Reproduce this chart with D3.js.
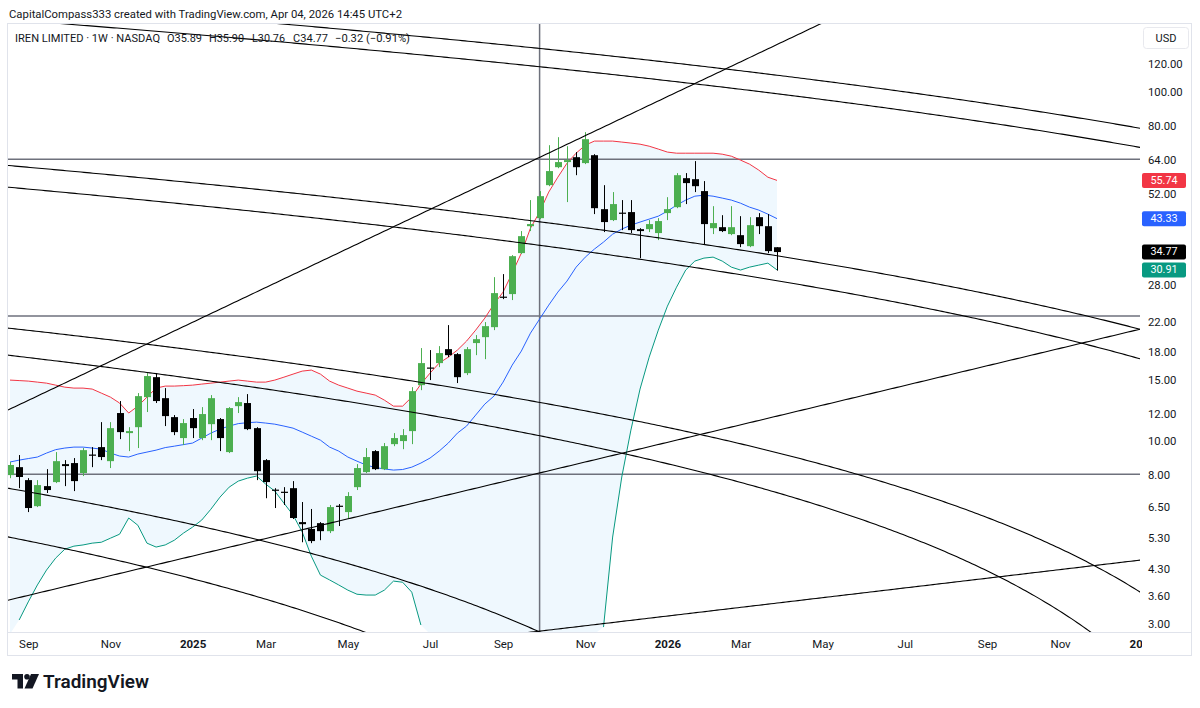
<!DOCTYPE html>
<html><head><meta charset="utf-8">
<script src="https://cdn.jsdelivr.net/npm/d3@7"></script>
<style>
html,body{margin:0;padding:0;background:#fff;}
svg{display:block;font-family:Roboto,"Liberation Sans",Arial,sans-serif;}
</style></head><body>
<svg id="c" width="1200" height="708"></svg>
<script>
// ---------------- DATA ----------------
const dates = ["2024-08-19","2024-08-26","2024-09-02","2024-09-09","2024-09-16","2024-09-23","2024-09-30","2024-10-07","2024-10-14","2024-10-21","2024-10-28","2024-11-04","2024-11-11","2024-11-18","2024-11-25","2024-12-02","2024-12-09","2024-12-16","2024-12-23","2024-12-30","2025-01-06","2025-01-13","2025-01-20","2025-01-27","2025-02-03","2025-02-10","2025-02-17","2025-02-24","2025-03-03","2025-03-10","2025-03-17","2025-03-24","2025-03-31","2025-04-07","2025-04-14","2025-04-21","2025-04-28","2025-05-05","2025-05-12","2025-05-19","2025-05-26","2025-06-02","2025-06-09","2025-06-16","2025-06-23","2025-06-30","2025-07-07","2025-07-14","2025-07-21","2025-07-28","2025-08-04","2025-08-11","2025-08-18","2025-08-25","2025-09-01","2025-09-08","2025-09-15","2025-09-22","2025-09-29","2025-10-06","2025-10-13","2025-10-20","2025-10-27","2025-11-03","2025-11-10","2025-11-17","2025-11-24","2025-12-01","2025-12-08","2025-12-15","2025-12-22","2025-12-29","2026-01-05","2026-01-12","2026-01-19","2026-01-26","2026-02-02","2026-02-09","2026-02-16","2026-02-23","2026-03-02","2026-03-09","2026-03-16","2026-03-23","2026-03-30"];

const open = [8.00,8.43,7.74,6.52,7.44,7.64,8.60,8.66,8.11,9.16,
  9.62,8.77,12.04,10.55,10.97,13.37,15.25,13.28,11.72,10.21,
  11.65,10.21,11.19,11.57,9.31,12.60,12.86,10.90,8.83,7.27,
  7.17,7.34,5.87,5.61,5.83,5.53,6.54,6.27,7.39,8.16,
  9.37,8.32,9.81,10.01,10.69,14.47,16.25,16.73,18.34,17.75,
  15.66,19.09,19.85,21.20,25.92,26.36,34.53,41.23,43.47,54.02,
  60.81,62.89,64.95,62.47,65.81,46.12,42.92,45.08,45.24,40.43,
  40.43,39.40,44.94,46.73,56.56,56.19,51.95,40.69,40.96,39.14,
  38.86,36.15,43.75,41.23,35.89];
const high = [8.72,9.13,7.84,7.74,8.32,9.31,8.83,8.95,9.56,9.62,
  11.34,11.34,13.03,10.97,13.73,15.66,15.66,14.19,11.88,11.57,
  12.36,12.52,13.55,11.65,12.52,13.37,13.64,10.97,8.89,7.34,
  7.39,7.69,6.70,6.40,5.87,6.57,6.61,7.15,8.60,9.56,
  9.43,9.88,10.55,10.83,14.28,18.47,18.23,18.71,21.49,17.87,
  18.59,20.12,21.92,29.47,30.07,34.07,39.92,48.96,51.95,70.29,
  74.10,69.83,67.17,76.60,66.25,54.02,51.61,48.96,48.96,40.69,
  42.92,43.47,49.91,58.49,58.49,63.30,55.49,47.04,44.33,47.04,
  44.04,43.75,44.94,44.65,35.90];
const low = [7.84,7.34,6.27,6.48,7.11,7.59,7.44,7.20,7.95,8.43,
  8.83,8.38,10.14,9.37,9.56,12.12,12.86,11.05,10.41,9.75,
  10.21,10.07,10.07,9.37,9.25,12.04,10.76,7.74,6.87,6.44,
  6.57,5.99,5.14,5.11,5.21,5.46,5.72,6.03,7.25,8.11,
  8.27,8.27,9.68,9.49,9.81,14.00,14.96,16.29,17.40,14.67,
  15.46,17.63,17.17,20.79,25.50,25.34,34.31,39.92,43.18,53.66,
  60.41,48.32,57.69,62.06,44.65,39.66,42.64,40.18,39.40,33.40,
  39.66,37.62,42.92,46.42,47.69,51.61,36.64,39.14,39.66,38.86,
  35.91,35.91,39.14,34.53,30.76];
const close = [8.55,7.90,6.44,7.49,7.25,8.77,8.49,7.69,9.43,9.10,
  9.01,10.90,10.62,10.69,13.46,15.36,13.03,11.80,10.62,11.27,
  10.90,11.96,13.28,10.21,12.44,12.94,10.83,8.21,7.64,7.22,
  7.13,6.03,5.79,5.18,5.53,6.48,6.50,6.97,8.38,9.01,
  8.32,9.68,10.21,10.41,13.91,16.73,16.15,17.87,17.63,15.25,
  18.34,19.59,21.34,26.53,25.75,33.84,38.61,41.80,50.24,59.27,
  62.89,63.72,60.81,73.13,46.42,42.36,47.69,44.79,40.18,39.92,
  41.80,42.64,46.12,57.69,54.76,53.66,41.80,42.08,39.92,40.96,
  36.64,41.51,41.23,34.99,34.77];

// Bollinger Bands (20, 2); null = below the visible price range
const bbUpper = [14.96,14.91,14.86,14.76,14.66,14.47,14.28,14.19,14.19,14.10,
  13.73,13.37,12.86,12.04,12.60,13.37,14.19,14.38,14.38,14.42,
  14.47,14.57,14.66,14.76,14.86,14.96,14.86,14.76,14.76,14.96,
  15.25,15.56,15.87,15.98,15.56,14.86,14.47,14.19,13.91,13.73,
  13.55,13.11,12.60,12.60,13.37,14.57,15.66,16.73,17.40,18.23,
  19.34,20.79,22.50,24.67,26.71,30.27,34.53,40.69,45.24,51.61,
  56.94,62.44,66.69,70.29,72.22,72.22,72.22,71.75,71.28,70.76,
  69.83,68.51,67.17,66.68,66.68,66.68,66.68,66.68,66.25,65.38,
  63.72,62.03,59.66,56.93,55.74];
const bbBasis = [8.72,8.83,8.92,9.01,9.25,9.46,9.56,9.62,9.62,9.56,
  9.49,9.25,9.07,9.01,9.19,9.31,9.43,9.59,9.68,9.78,
  9.88,10.21,10.55,10.83,11.05,11.23,11.30,11.34,11.27,11.19,
  11.05,10.90,10.62,10.34,10.07,9.62,9.37,9.01,8.77,8.55,
  8.41,8.33,8.27,8.30,8.43,8.66,8.95,9.37,9.88,10.55,
  11.05,11.88,12.77,13.46,14.76,16.51,18.11,20.38,22.36,24.51,
  26.71,28.72,31.48,33.62,35.45,37.13,39.12,40.45,41.51,42.36,
  43.20,44.04,45.54,47.35,48.96,50.24,50.57,50.24,49.61,48.96,
  47.98,46.73,45.84,44.63,43.33];
const bbLower = [null,3.08,3.47,3.88,4.28,4.63,4.91,5.01,5.05,5.11,
  5.14,5.28,5.42,6.03,5.75,5.11,4.98,5.05,5.21,5.46,
  5.68,5.95,6.39,6.92,7.39,7.69,7.84,7.95,7.54,7.20,
  6.65,6.15,5.50,4.69,4.14,4.01,3.88,3.75,3.65,3.63,
  3.63,3.75,3.98,3.95,3.70,2.98,null,null,null,null,
  null,null,null,null,null,null,null,null,null,null,
  null,null,null,null,null,2.94,5.32,7.90,10.76,14.10,
  17.40,20.79,24.35,27.59,30.88,32.76,33.41,33.63,32.76,31.48,
  30.88,31.48,31.90,32.32,30.91];

const priceTicks = [120,100,80,64,52,28,22,18,15,12,10,8,6.5,5.3,4.3,3.6,3];
const timeTicks = ["2024-09-02","2024-11-04","2025-01-06","2025-03-03","2025-05-05","2025-07-07","2025-09-01","2025-11-03","2026-01-05","2026-03-02","2026-05-04","2026-07-06","2026-09-07","2026-11-02","2027-01-04"];
const timeTickLabels = ["Sep","Nov","2025","Mar","May","Jul","Sep","Nov","2026","Mar","May","Jul","Sep","Nov","2027"];

// drawings: horizontal levels, vertical marker, trend lines (start [date, price], end [date, price], mode)
const hLevels = [64.1, 22.8, 8.05];
const vLineDate = "2025-09-29";
const lineStart = [["2024-08-19",180.9],["2024-08-19",160.7],["2024-08-19",61.43],["2024-08-19",53.24],["2024-08-19",21.04],["2024-08-19",17.60],["2024-08-19",7.32],["2024-08-19",5.31],["2024-08-19",12.36],["2024-08-19",3.52],["2025-09-29",2.862]];
const lineEnd   = [["2027-01-04",78.4],["2027-01-04",69.1],["2027-01-04",20.83],["2027-01-04",17.14],["2027-01-04",3.67],["2027-01-04",2.14],["2025-09-26",2.88],["2025-05-14",2.88],["2026-01-05",96.8],["2027-01-04",20.99],["2027-01-04",4.577]];
const lineMode  = ["linear","linear","linear","linear","linear","linear","linear","linear","log","log","log"];

const lastValues = [55.74, 43.33, 34.77, 30.91];

// ---------------- DRAW ----------------
const svg = d3.select("#c");
const parse = d3.utcParse("%Y-%m-%d");
const D = dates.map(parse);
const PL = 8, PT = 24, PR = 1140, PB = 632;
const x = d3.scaleUtc().domain([D[0], D[D.length-1]]).range([10, 777]);
const y = d3.scaleLog().domain([3, 120]).range([624, 64]);
const FONT = 'Roboto,"Liberation Sans",Arial,sans-serif';
const TXT = "#131722";

const defs = svg.append("defs");
defs.append("clipPath").attr("id","plot").append("rect")
  .attr("x",PL).attr("y",PT).attr("width",PR-PL).attr("height",PB-PT);
defs.append("clipPath").attr("id","xclip").append("rect")
  .attr("x",0).attr("y",0).attr("width",1142).attr("height",24);

// frame
svg.append("rect").attr("x",PL-0.5).attr("y",PT-0.5).attr("width",1192-PL).attr("height",656-PT)
  .attr("fill","none").attr("stroke","#e0e3eb");
svg.append("line").attr("x1",PL).attr("x2",1192).attr("y1",PB+0.5).attr("y2",PB+0.5).attr("stroke","#e0e3eb");

const g = svg.append("g").attr("clip-path","url(#plot)");
const idx = d3.range(D.length);

// band fill
g.append("path").datum(idx)
  .attr("fill","rgba(33,150,243,0.07)")
  .attr("d", d3.area()
    .x(i => x(D[i]))
    .y0(i => bbLower[i] == null ? PB + 2 : y(bbLower[i]))
    .y1(i => y(bbUpper[i])));

// horizontal & vertical drawings
g.selectAll("line.h").data(hLevels).join("line").attr("class","h")
  .attr("x1",PL).attr("x2",PR).attr("y1",d=>y(d)).attr("y2",d=>y(d))
  .attr("stroke","#6e717c").attr("stroke-width",1.5);
const vx = x(parse(vLineDate));
g.append("line").attr("x1",vx).attr("x2",vx).attr("y1",PT).attr("y2",PB)
  .attr("stroke","#6e717c").attr("stroke-width",1.5);

// bands
function bandLine(arr, color){
  g.append("path").datum(idx).attr("fill","none").attr("stroke",color).attr("stroke-width",1)
    .attr("d", d3.line().defined(i => arr[i] != null).x(i => x(D[i])).y(i => y(arr[i])));
}
bandLine(bbUpper, "#f23645");
bandLine(bbBasis, "#2962ff");
bandLine(bbLower, "#089981");

// candles
const up = "#4caf50", dn = "#000000";
const cg = g.append("g");
idx.forEach(i => {
  const cx = Math.round(x(D[i])) + 0.5;
  const col = close[i] >= open[i] ? up : dn;
  cg.append("line").attr("x1",cx).attr("x2",cx).attr("y1",y(high[i])).attr("y2",y(low[i]))
    .attr("stroke",col).attr("stroke-width",1);
  const y0 = y(Math.max(open[i],close[i])), y1 = y(Math.min(open[i],close[i]));
  cg.append("rect").attr("x",cx-3.5).attr("width",7).attr("y",y0).attr("height",Math.max(1.2,y1-y0))
    .attr("fill",col);
});

// trend lines
lineStart.forEach((s, k) => {
  const ta = +parse(s[0]), pa = s[1];
  const tb = +parse(lineEnd[k][0]), pb = lineEnd[k][1];
  const pts = [];
  for (let px = 0; px <= 1150; px += 3) {
    const t = +x.invert(px);
    const f = (t - ta) / (tb - ta);
    let p;
    if (lineMode[k] === "log") p = Math.exp(Math.log(pa) + (Math.log(pb) - Math.log(pa)) * f);
    else p = pa + (pb - pa) * f;
    pts.push([px, p]);
  }
  g.append("path").datum(pts).attr("fill","none").attr("stroke","#000").attr("stroke-width",1.1)
    .attr("d", d3.line().defined(d => d[1] > 0.8).x(d => d[0]).y(d => y(d[1])));
});

// x axis
const xAxis = d3.axisBottom(x).tickValues(timeTicks.map(parse))
  .tickFormat((d,i) => timeTickLabels[i]).tickSize(0).tickPadding(8);
const gxo = svg.append("g").attr("transform",`translate(0,${PB})`);
const gx = gxo.append("g").attr("clip-path","url(#xclip)").call(xAxis);
gx.select(".domain").remove();
gx.attr("font-family",FONT);
gx.selectAll("text").attr("font-size",11.5).attr("fill",TXT)
  .attr("font-weight",(d,i) => /^\d{4}$/.test(timeTickLabels[i]) ? 700 : 400);

// y axis
const yAxis = d3.axisRight(y).tickValues(priceTicks).tickFormat(d3.format(".2f")).tickSize(0).tickPadding(0);
const gy = svg.append("g").attr("transform","translate(1148,0)").call(yAxis);
gy.select(".domain").remove();
gy.attr("font-family",FONT);
gy.selectAll("text").attr("font-size",11.3).attr("fill",TXT)
  .attr("dy", d => d === 52 ? "0.55em" : "0.32em");

// last value labels
const lastColors = ["#f23645","#2962ff","#000000","#089981"];
lastValues.forEach((v,k) => {
  const yy = y(v);
  svg.append("rect").attr("x",1142).attr("y",yy-7.5).attr("width",44).attr("height",15).attr("rx",2)
    .attr("fill",lastColors[k]);
  svg.append("text").attr("x",1164).attr("y",yy).attr("dy","0.3em").attr("text-anchor","middle")
    .attr("font-family",FONT).attr("font-size",10.8).attr("fill","#fff").text(v.toFixed(2));
});

// USD box
svg.append("rect").attr("x",1143.5).attr("y",27.5).attr("width",45).attr("height",21).attr("rx",3)
  .attr("fill","#fff").attr("stroke","#e8e9ee");
svg.append("text").attr("x",1166).attr("y",38).attr("dy","0.35em").attr("text-anchor","middle")
  .attr("font-family",FONT).attr("font-size",11).attr("fill",TXT).text("USD");

// header and legend
svg.append("text").attr("x",9).attr("y",18).attr("font-family",FONT).attr("font-size",11.5)
  .attr("fill",TXT).attr("textLength",393).attr("lengthAdjust","spacingAndGlyphs")
  .text("CapitalCompass333 created with TradingView.com, Apr 04, 2026 14:45 UTC+2");
const legendParts = ["IREN LIMITED · 1W · NASDAQ","O35.89","H35.90","L30.76","C34.77","−0.32 (−0.91%)"];
const legendX = [15, 167, 209, 252, 293, 335];
const legendW = [145, 35, 35, 33, 35, 75];
const lgT = svg.append("g").attr("font-family",FONT).attr("font-size",11).attr("fill",TXT);
legendParts.forEach((t,k) => lgT.append("text").attr("x",legendX[k]).attr("y",42)
  .attr("textLength",legendW[k]).attr("lengthAdjust","spacingAndGlyphs").text(t));

// TradingView logo
const lg = svg.append("g").attr("fill",TXT);
lg.append("rect").attr("x",12).attr("y",674).attr("width",11).attr("height",5.5);
lg.append("rect").attr("x",17.5).attr("y",674).attr("width",5.5).attr("height",14.5);
lg.append("circle").attr("cx",27).attr("cy",676.8).attr("r",2.8);
lg.append("path").attr("d","M31 674 L39 674 L32.5 688.5 L24.5 688.5 Z");
svg.append("text").attr("x",43).attr("y",688).attr("font-family",FONT).attr("font-size",19)
  .attr("font-weight",600).attr("fill",TXT).attr("textLength",106).attr("lengthAdjust","spacingAndGlyphs")
  .text("TradingView");
</script>
</body></html>
